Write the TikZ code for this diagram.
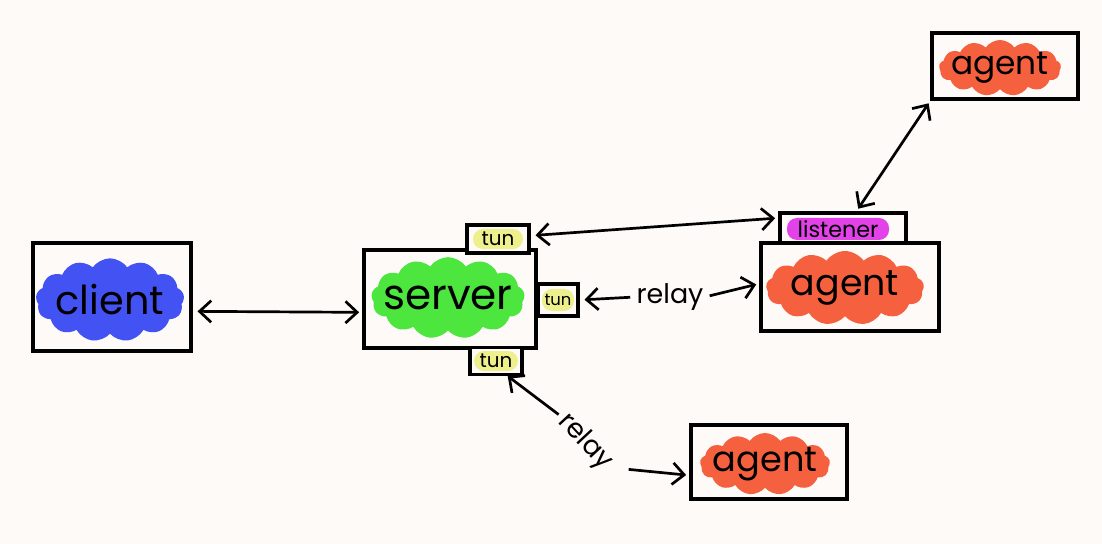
\documentclass[tikz,border=0pt]{standalone}
\usepackage{fontspec}
\setmainfont{Poppins}
\usetikzlibrary{arrows.meta, positioning, shapes.symbols}
\definecolor{bgpaper}{HTML}{FDFAF8}
\definecolor{clientblue}{HTML}{4352F2}
\definecolor{servergreen}{HTML}{4CE63E}
\definecolor{agentred}{HTML}{F5603F}
\definecolor{listenmag}{HTML}{E242E8}
\definecolor{tunyellow}{HTML}{EDF08C}

\begin{document}
\begin{tikzpicture}[
  x=0.03cm, y=-0.03cm,
  >={Straight Barb[length=3.5mm, width=6.5mm]},
  box/.style={draw=black, line width=2.6pt, fill=bgpaper, inner sep=0pt},
  blob/.style={cloud, cloud puffs=13, cloud puff arc=110, cloud ignores aspect,
    inner sep=0pt},
  pill/.style={rounded corners=3mm, inner sep=0pt},
  lbl/.style={font=\fontsize{#1}{#1}\selectfont, inner sep=1pt},
  arr/.style={line width=2.3pt}
]

% ---- Paper ----
\fill[bgpaper] (0,0) rectangle (1102,544);
\useasboundingbox (0,0) rectangle (1102,544);

% ---- Client ----
\node[box, minimum width=4.74cm, minimum height=3.24cm] (client) at (112,297) {};
\node[blob, fill=clientblue, minimum width=4.45cm, minimum height=2.5cm]
  (clientblob) at (110,300) {};
\node[lbl=34] at (clientblob) {client};

% ---- Server and its tunnels ----
\node[box, minimum width=5.16cm, minimum height=2.94cm] (server) at (450,299) {};
\node[blob, fill=servergreen, minimum width=4.6cm, minimum height=2.45cm]
  (serverblob) at (448,298) {};
\node[lbl=36] at (serverblob) {server};

\node[box, minimum width=1.86cm, minimum height=0.84cm] (tuntop) at (498,239) {};
\node[pill, fill=tunyellow, minimum width=1.5cm, minimum height=0.6cm,
  lbl=17] at (tuntop) {tun};

\node[box, minimum width=1.2cm, minimum height=0.96cm] (tunright) at (558,300) {};
\node[pill, fill=tunyellow, minimum width=0.96cm, minimum height=0.66cm,
  lbl=14] at (tunright) {tun};

\node[box, minimum width=1.56cm, minimum height=0.81cm] (tunbottom) at (496,361) {};
\node[pill, fill=tunyellow, minimum width=1.32cm, minimum height=0.6cm,
  lbl=17] at (tunbottom) {tun};

% ---- Agents ----
\node[box, minimum width=3.78cm, minimum height=0.9cm] (listener) at (843,228) {};
\node[pill, fill=listenmag, minimum width=3.06cm, minimum height=0.66cm,
  lbl=19] at (838,229) {listener};

\node[box, minimum width=5.34cm, minimum height=2.64cm] (agentmid) at (850,287) {};
\node[blob, fill=agentred, minimum width=4.74cm, minimum height=2.22cm]
  (agentmidblob) at (845,288) {};
\node[lbl=31] at (agentmidblob) {agent};

\node[box, minimum width=4.38cm, minimum height=1.98cm] (agenttop) at (1005,66) {};
\node[blob, fill=agentred, minimum width=3.66cm, minimum height=1.68cm]
  (agenttopblob) at (1000,68) {};
\node[lbl=28] at (agenttopblob) {agent};

\node[box, minimum width=4.68cm, minimum height=2.22cm] (agentbot) at (769,462) {};
\node[blob, fill=agentred, minimum width=3.9cm, minimum height=1.86cm]
  (agentbotblob) at (765,464) {};
\node[lbl=30] at (agentbotblob) {agent};

% ---- Relay labels ----
\node[lbl=23] (relaymid) at (670,297) {relay};
\node[lbl=23, rotate=-47] (relaylow) at (585,442) {relay};

% ---- Connectors ----
\draw[arr, <->, shorten <=1.5mm, shorten >=1mm]
  ([yshift=-4.3mm]client.east) -- ([yshift=-4mm]server.west);
\draw[arr, <->, shorten <=1.5mm, shorten >=1mm]
  ([yshift=1mm]tuntop.east) -- ([yshift=3mm]listener.west);
\draw[arr, <-, shorten <=1.5mm, shorten >=1.5mm] (tunright.east) -- (relaymid.west);
\draw[arr, ->, shorten <=1.5mm, shorten >=1mm]
  (relaymid.east) -- ([yshift=1mm]agentmid.west);
\draw[arr, <->, shorten <=1mm, shorten >=1mm]
  ([xshift=4mm]listener.north) -- (agenttop.south west);
\draw[arr, ->, shorten <=1mm] (relaylow.west) -- ([xshift=3.5mm]tunbottom.south);
\draw[arr, ->, shorten <=6mm, shorten >=1mm]
  (relaylow.east) -- ([yshift=-4mm]agentbot.west);

\end{tikzpicture}
\end{document}
